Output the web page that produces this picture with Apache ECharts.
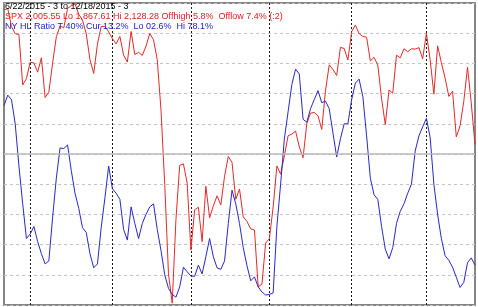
<!DOCTYPE html>
<html>
<head>
<meta charset="utf-8">
<script src="https://cdn.jsdelivr.net/npm/echarts@6/dist/echarts.min.js"></script>
<style>
html,body{margin:0;padding:0;background:#fff;}
#c{width:478px;height:307px;}
</style>
</head>
<body>
<div id="c"></div>
<script>
var dates = [
'6/22','6/23','6/24','6/25','6/26','6/29','6/30',
'7/1','7/2','7/6','7/7','7/8','7/9','7/10','7/13','7/14','7/15','7/16','7/17','7/20','7/21','7/22','7/23','7/24','7/27','7/28','7/29','7/30','7/31',
'8/3','8/4','8/5','8/6','8/7','8/10','8/11','8/12','8/13','8/14','8/17','8/18','8/19','8/20','8/21','8/24','8/25','8/26','8/27','8/28','8/31',
'9/1','9/2','9/3','9/4','9/8','9/9','9/10','9/11','9/14','9/15','9/16','9/17','9/18','9/21','9/22','9/23','9/24','9/25','9/28','9/29','9/30',
'10/1','10/2','10/5','10/6','10/7','10/8','10/9','10/12','10/13','10/14','10/15','10/16','10/19','10/20','10/21','10/22','10/23','10/26','10/27','10/28','10/29','10/30',
'11/2','11/3','11/4','11/5','11/6','11/9','11/10','11/11','11/12','11/13','11/16','11/17','11/18','11/19','11/20','11/23','11/24','11/25','11/27','11/30',
'12/1','12/2','12/3','12/4','12/7','12/8','12/9','12/10','12/11','12/14','12/15','12/16','12/17','12/18'
];
var spx = [
2122.85,2124.20,2108.58,2102.31,2101.49,2057.64,2063.11,
2077.42,2076.78,2068.76,2081.34,2046.68,2051.31,2076.62,2099.60,2108.95,2107.40,2124.29,2126.64,2128.28,2119.21,2114.15,2102.15,2079.65,2067.64,2093.25,2108.57,2108.63,2103.84,
2098.04,2093.32,2099.84,2083.56,2077.57,2104.18,2084.07,2086.05,2083.39,2091.54,2102.44,2096.92,2079.61,2035.73,1970.89,1893.21,1867.61,1940.51,1987.66,1988.87,1972.18,
1913.85,1948.86,1951.13,1921.22,1969.41,1942.04,1952.29,1961.05,1953.03,1978.09,1995.31,1990.20,1958.03,1966.97,1942.74,1938.76,1932.24,1931.34,1881.77,1884.09,1920.03,
1923.82,1951.36,1987.05,1979.92,1995.83,2013.43,2014.89,2017.46,2003.69,1994.24,2023.86,2033.11,2033.66,2030.77,2018.94,2052.51,2075.15,2071.18,2065.89,2090.35,2089.41,2079.36,
2104.05,2109.79,2102.31,2099.93,2099.20,2078.58,2081.72,2075.00,2045.97,2023.04,2053.19,2050.44,2083.58,2081.24,2089.17,2086.59,2089.14,2088.87,2090.11,2080.41,
2102.63,2079.51,2049.62,2091.69,2077.07,2063.59,2047.62,2052.23,2012.37,2021.94,2043.41,2073.07,2041.89,2005.55
];
var hlRatio = [
66,69.5,68,60,46,33.5,22,23.5,26,21,
17,13.6,14.6,29,42,52,51.8,53,44.5,37,
32,25.6,24,17,12.3,13.6,25.6,35.5,46,38.5,
37,35,25,21.5,32.5,27,22,27,30,32.5,
33.5,25,18,10,5.5,3.5,2.6,6,12.5,11,
9.6,9.5,13.2,10.3,16,22,16,12.3,11.8,14.6,
27,38,33.5,27,19,13,8,9.3,6,4.3,
3.3,3.5,4,26,40,55,64,73,78.1,76.5,
61.5,60.5,65,68,71,67,67.5,65,57,49,
55,60,60,68,73.5,74.8,69,56,42,36.5,
35,26,18.5,15.3,19,27,31,33.5,37,40,
51,56,59,61.8,55.5,40,30,22,16.3,14.8,
12.5,9.2,5.8,7.5,14,15.6,13.2
];
var headerLines = [
  '6/22/2015 - 3 to 12/18/2015 - 3',
  'SPX 2,005.55 Lo 1,867.61 Hi 2,128.28 Offhigh 5.8%  Offlow 7.4% (:2)',
  'NY HL Ratio T 40% Cur 13.2%  Lo 02.6%  Hi 78.1%'
];
var headerColors = ['#000000', '#e02020', '#2020c8'];
var ratioMid = 50;

function isMonthStart(i) {
  if (i === 0) return false;
  return dates[i].split('/')[0] !== dates[i - 1].split('/')[0];
}

var chart = echarts.init(document.getElementById('c'), null, {renderer: 'canvas'});
var font = '9px "Liberation Sans", Arial, sans-serif';
chart.setOption({
  animation: false,
  backgroundColor: '#ffffff',
  grid: {left: 4, right: 3, top: 3, bottom: 2, show: true, borderColor: '#858585', borderWidth: 2, backgroundColor: '#ffffff'},
  xAxis: {
    type: 'category', data: dates, boundaryGap: false,
    axisLine: {show: false}, axisTick: {show: false}, axisLabel: {show: false},
    splitLine: {show: true, interval: function (i) { return isMonthStart(i); },
      lineStyle: {color: '#1a1a1a', width: 1, type: [2, 2]}}
  },
  yAxis: [
    {type: 'value', min: 0, max: 100, interval: 10,
     axisLine: {show: false}, axisTick: {show: false}, axisLabel: {show: false},
     splitLine: {show: true, lineStyle: {color: '#c4c4c4', width: 1, type: [3, 3]}}},
    {type: 'value', min: 1866, max: 2129, show: false, splitLine: {show: false}}
  ],
  series: [
    {type: 'line', yAxisIndex: 0, data: hlRatio.map(function(){return null;}), symbol: 'none', silent: true,
     markLine: {silent: true, symbol: 'none', label: {show: false},
       lineStyle: {color: '#b8b8b8', width: 1.5, type: 'solid'},
       data: [{yAxis: ratioMid}]}},
    {type: 'line', yAxisIndex: 1, data: spx, symbol: 'none', lineStyle: {color: '#e82828', width: 1}, z: 3},
    {type: 'line', yAxisIndex: 0, data: hlRatio, symbol: 'none', lineStyle: {color: '#2828c8', width: 1}, z: 3}
  ],
  graphic: headerLines.map(function (t, k) {
    return {type: 'text', left: 5, top: 2 + k * 10, z: 10,
      style: {text: t, fill: headerColors[k], font: font}};
  })
});
</script>
</body>
</html>
